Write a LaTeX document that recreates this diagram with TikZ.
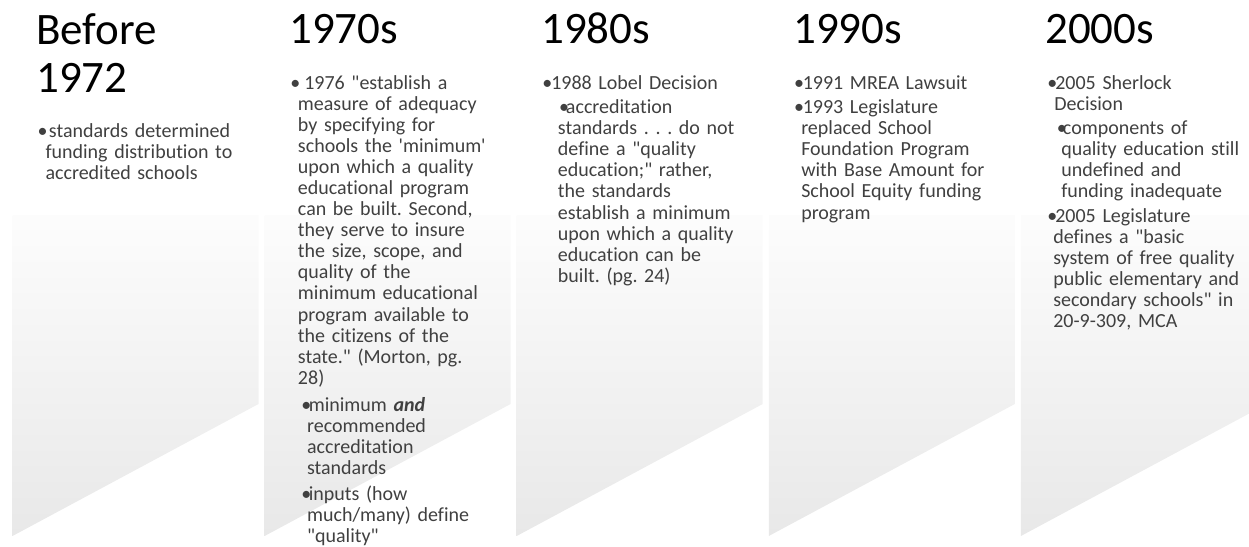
\documentclass[tikz,border=0pt]{standalone}
\usepackage{fontspec}
\setmainfont{Carlito}[Ligatures={NoCommon}]
\definecolor{bodygrey}{HTML}{404040}
\newlength{\ux}\setlength{\ux}{0.75pt}
\newcommand{\bp}[3]{\noindent\hspace*{#1\ux}\makebox[#2\ux][l]{\textbullet}#3}
\frenchspacing
\begin{document}
\begin{tikzpicture}[x=0.75pt,y=-0.75pt,
  heading/.style={anchor=base west, inner sep=0pt, text width=240\ux, align=left,
    font={\fontsize{33.75}{36}\selectfont}, text=black},
  bodytext/.style={anchor=base west, inner sep=0pt, text width=240\ux, align=left,
    font={\frenchspacing\fontsize{15}{15.8}\selectfont}, text=bodygrey},
  band/.style={top color=white!99!black, bottom color=white!91!black, draw=none}]
\useasboundingbox (0,0) rectangle (1249,546);
\clip (0,0) rectangle (1249,546);
\foreach \i in {0,...,4}{
  \path[band] ({12.5+252.1*\i},215) -- ++(246,0) -- ++(0,189) -- ({12.5+252.1*\i},536) -- cycle;
}
% headings
\node[heading] (h1) at (36,44.2) {Before\newline 1972};
\node[heading] (h2) at (289,43.5) {1970s};
\node[heading] (h3) at (541,43.5) {1980s};
\node[heading] (h4) at (793,43.5) {1990s};
\node[heading] (h5) at (1045,43.5) {2000s};
% column 1
\node[bodytext] (p1a) at (45.3,137.6) {\bp{-8}{11.4}{standards determined\newline funding distribution to\newline accredited schools}};
% column 2
\node[bodytext] (p2a) at (297.7,89.3) {\bp{-7.7}{14}{1976 \textquotedbl{}establish a\newline measure of adequacy\newline by specifying for\newline schools the \textquotesingle{}minimum\textquotesingle\newline upon which a quality\newline educational program\newline can be built. Second,\newline they serve to insure\newline the size, scope, and\newline quality of the\newline minimum educational\newline program available to\newline the citizens of the\newline state.\textquotedbl{} (Morton, pg.\newline 28)}};
\node[bodytext] (p2b) at (306.8,411.6) {\bp{-5.6}{7.3}{minimum \textbf{\textit{and}}\newline recommended\newline accreditation\newline standards}};
\node[bodytext] (p2c) at (306.8,500.4) {\bp{-5.6}{7.3}{inputs (how\newline much/many) define\newline \textquotedbl{}quality\textquotedbl}};
% column 3
\node[bodytext] (p3a) at (551,89.3) {\bp{-9}{9}{1988 Lobel Decision}};
\node[bodytext] (p3b) at (557.7,113.7) {\bp{1.1}{6.9}{accreditation\newline standards . . . do not\newline define a \textquotedbl{}quality\newline education;\textquotedbl{} rather,\newline the standards\newline establish a minimum\newline upon which a quality\newline education can be\newline built. (pg. 24)}};
% column 4
\node[bodytext] (p4a) at (801,89.3) {\bp{-7.2}{8.7}{1991 MREA Lawsuit}};
\node[bodytext] (p4b) at (801,113.7) {\bp{-7.2}{8.7}{1993 Legislature\newline replaced School\newline Foundation Program\newline with Base Amount for\newline School Equity funding\newline program}};
% column 5
\node[bodytext] (p5a) at (1054,89.3) {\bp{-7}{8}{2005 Sherlock\newline Decision}};
\node[bodytext] (p5b) at (1061,134.6) {\bp{-4.5}{6.2}{components of\newline quality education still\newline undefined and\newline funding inadequate}};
\node[bodytext] (p5c) at (1053,222.3) {\bp{-6}{8}{2005 Legislature\newline defines a \textquotedbl{}basic\newline system of free quality\newline public elementary and\newline secondary schools\textquotedbl{} in\newline 20-9-309, MCA}};
\end{tikzpicture}
\end{document}
